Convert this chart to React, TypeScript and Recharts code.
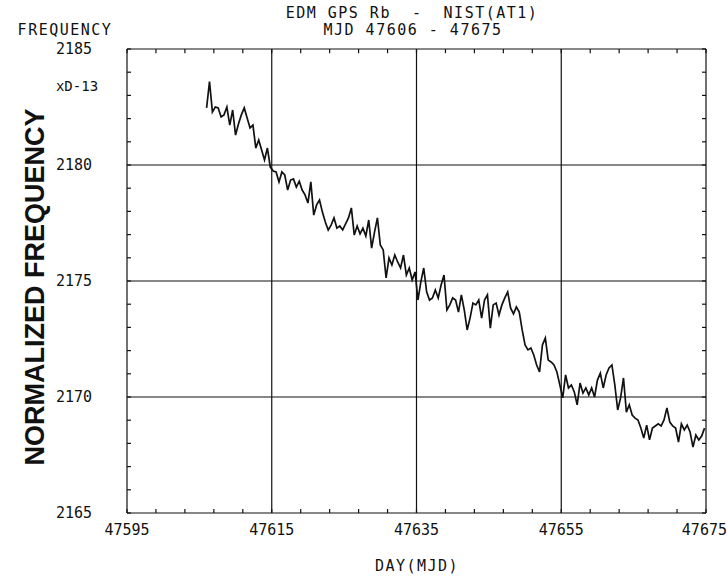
import { CartesianGrid, Line, LineChart, ReferenceLine, XAxis, YAxis } from 'recharts';

// Sample grid of the record: first point at MJD 47606, one reading every 0.4 day.
const START_MJD = 47606;
const STEP_DAYS = 0.4;

// Normalized frequency, units of 1e-13.
const FREQ = [
  2182.46, 2183.6, 2182.28, 2182.5, 2182.46, 2182.07, 2182.16, 2182.5, 2181.72, 2182.37,
  2181.29, 2181.77, 2182.16, 2182.46, 2182.03, 2181.6, 2181.72, 2180.73, 2181.08, 2180.65,
  2180.22, 2180.73, 2179.91, 2179.74, 2179.7, 2179.27, 2179.7, 2179.57, 2178.92, 2179.35,
  2179.4, 2179.05, 2179.3, 2178.92, 2178.71, 2178.36, 2179.27, 2177.84, 2178.28, 2178.49,
  2177.97, 2177.54, 2177.2, 2177.41, 2177.72, 2177.28, 2177.37, 2177.2, 2177.46, 2177.72,
  2178.15, 2176.98, 2177.37, 2177.03, 2177.28, 2176.94, 2177.63, 2176.42, 2177.11, 2177.72,
  2176.55, 2176.34, 2175.13, 2175.99, 2175.69, 2176.12, 2175.82, 2175.56, 2176.12, 2175.26,
  2175.56, 2175.04, 2175.39, 2174.18, 2174.96, 2175.56, 2174.53, 2174.18, 2174.27, 2174.61,
  2174.27, 2174.83, 2175.26, 2173.75, 2173.97, 2174.27, 2174.18, 2173.66, 2174.4, 2173.75,
  2172.89, 2173.4, 2174.05, 2173.97, 2174.18, 2173.4, 2174.18, 2174.4, 2172.97, 2173.97,
  2174.05, 2173.53, 2173.97, 2174.27, 2174.53, 2173.84, 2173.58, 2173.88, 2173.66, 2172.89,
  2172.24, 2172.03, 2172.11, 2171.81, 2171.38, 2171.08, 2172.24, 2172.54, 2171.59, 2171.51,
  2171.38, 2171.08, 2170.52, 2169.96, 2170.95, 2170.39, 2170.52, 2170.22, 2169.66, 2170.6,
  2170.17, 2170.39, 2170.09, 2170.39, 2170.0, 2170.73, 2171.03, 2170.39, 2170.95, 2171.25,
  2171.38, 2170.52, 2169.44, 2169.96, 2170.82, 2169.35, 2169.66, 2169.22, 2169.09, 2169.01,
  2168.66, 2168.23, 2168.79, 2168.15, 2168.66, 2168.75, 2168.84, 2168.75, 2169.01, 2169.53,
  2168.92, 2168.75, 2168.66, 2168.06, 2168.84, 2168.58, 2168.79, 2168.49, 2167.84, 2168.36,
  2168.15, 2168.32, 2168.66,
];

// Labelled values (also where the grid lines go).
const X_LABELS = [47595, 47615, 47635, 47655, 47675];
const Y_LABELS = [2165, 2170, 2175, 2180, 2185];
// Every tick on the frame: each 4 days, each 1e-13.
const X_TICKS = [
  47595, 47599, 47603, 47607, 47611, 47615, 47619, 47623, 47627, 47631, 47635,
  47639, 47643, 47647, 47651, 47655, 47659, 47663, 47667, 47671, 47675,
];
const Y_TICKS = [
  2165, 2166, 2167, 2168, 2169, 2170, 2171, 2172, 2173, 2174, 2175,
  2176, 2177, 2178, 2179, 2180, 2181, 2182, 2183, 2184, 2185,
];

const X_DOMAIN: [number, number] = [47595, 47675];
const Y_DOMAIN: [number, number] = [2165, 2185];
// tick length for the top and right edges, in data units (about 4px)
const TICK_DX = 0.55;
const TICK_DY = 0.18;

const INK = '#111';
const MONO = '"DejaVu Sans Mono", monospace';

type TickArgs = { x: number; y: number; payload: { value: number } };

// Bottom labels on the 20-day marks; the last one is pulled in so it stays on the page.
function DayTick({ x, y, payload }: TickArgs) {
  if (!X_LABELS.includes(payload.value)) return <g />;
  const last = payload.value === X_LABELS[X_LABELS.length - 1];
  return (
    <text x={last ? 727 : x} y={y} dy="0.71em" textAnchor={last ? 'end' : 'middle'}
      fill={INK} fontSize={15} fontFamily={MONO}>
      {payload.value}
    </text>
  );
}

function FreqTick({ x, y, payload }: TickArgs) {
  if (!Y_LABELS.includes(payload.value)) return <g />;
  return (
    <text x={x} y={y} dy="0.355em" textAnchor="end" fill={INK} fontSize={15} fontFamily={MONO}>
      {payload.value}
    </text>
  );
}

function Label({ x, y, children, style }: { x: number; y: number; children: string; style?: React.CSSProperties }) {
  return (
    <div
      style={{
        position: 'absolute',
        left: x,
        top: y,
        transform: 'translate(-50%, -50%)',
        whiteSpace: 'pre',
        fontFamily: MONO,
        fontSize: 15,
        lineHeight: '15px',
        letterSpacing: 1.5,
        color: INK,
        ...style,
      }}
    >
      {children}
    </div>
  );
}

export default function App() {
  const data = FREQ.map((v, i) => ({ mjd: START_MJD + i * STEP_DAYS, freq: v }));
  const [, x1] = X_DOMAIN;
  const [, y1] = Y_DOMAIN;
  const tickProps = { stroke: INK, strokeWidth: 1.2, ifOverflow: 'visible' as const };
  return (
    <div style={{ position: 'absolute', left: 0, top: 0, width: 727, height: 581, background: '#fff' }}>
      <LineChart width={727} height={581} data={data} margin={{ top: 49, right: 21, bottom: 38, left: 67 }}>
        <CartesianGrid stroke={INK} strokeWidth={1.2}
          horizontalValues={Y_LABELS} verticalValues={X_LABELS} />
        <XAxis
          dataKey="mjd"
          type="number"
          domain={X_DOMAIN}
          ticks={X_TICKS}
          interval={0}
          tickSize={-4}
          tickLine={{ stroke: INK, strokeWidth: 1.2 }}
          axisLine={false}
          tick={DayTick}
          tickMargin={15}
          height={30}
        />
        <YAxis
          type="number"
          domain={Y_DOMAIN}
          ticks={Y_TICKS}
          interval={0}
          tickSize={-4}
          tickLine={{ stroke: INK, strokeWidth: 1.2 }}
          axisLine={false}
          tick={FreqTick}
          tickMargin={39}
          width={60}
        />
        {X_TICKS.map((d) => (
          <ReferenceLine key={`t${d}`} segment={[{ x: d, y: y1 }, { x: d, y: y1 - TICK_DY }]} {...tickProps} />
        ))}
        {Y_TICKS.map((f) => (
          <ReferenceLine key={`r${f}`} segment={[{ x: x1, y: f }, { x: x1 - TICK_DX, y: f }]} {...tickProps} />
        ))}
        <Line
          dataKey="freq"
          type="linear"
          stroke={INK}
          strokeWidth={1.7}
          dot={false}
          isAnimationActive={false}
        />
      </LineChart>
      <Label x={412} y={13}>EDM GPS Rb  -  NIST(AT1)</Label>
      <Label x={413} y={30}>MJD 47606 - 47675</Label>
      <Label x={65} y={30}>FREQUENCY</Label>
      <Label x={77} y={86} style={{ fontSize: 14, letterSpacing: 0 }}>xD-13</Label>
      <Label x={417} y={566}>DAY(MJD)</Label>
      <Label
        x={35}
        y={287}
        style={{
          fontFamily: '"Liberation Sans", Arial, sans-serif',
          fontWeight: 700,
          fontSize: 27,
          lineHeight: '27px',
          letterSpacing: 0,
          transform: 'translate(-50%, -50%) rotate(-90deg)',
        }}
      >
        NORMALIZED FREQUENCY
      </Label>
    </div>
  );
}
